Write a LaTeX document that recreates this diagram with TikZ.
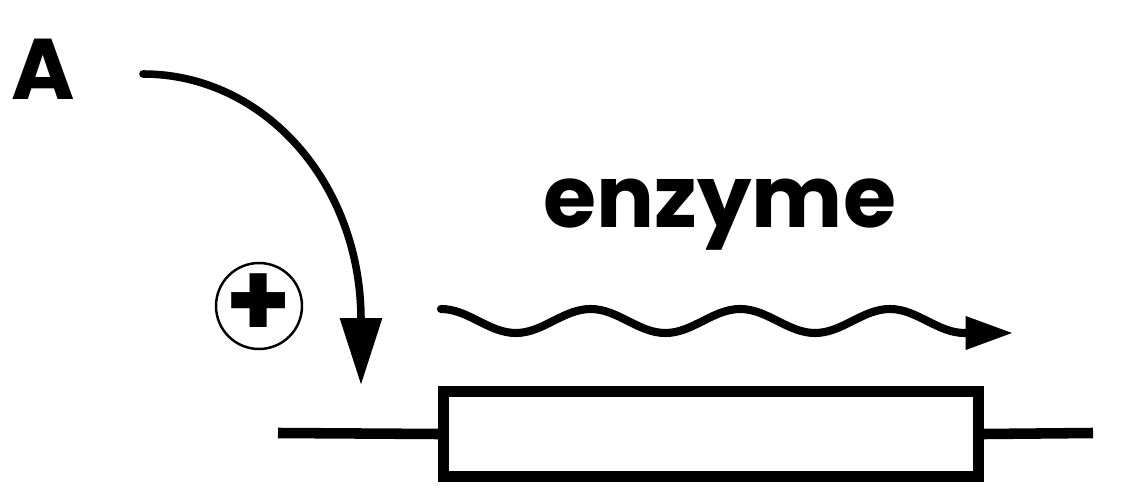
\documentclass[tikz,border=0pt]{standalone}
\usepackage{fontspec}
\setmainfont{Poppins}
\usetikzlibrary{arrows.meta}

\begin{document}
\begin{tikzpicture}[x=0.02cm, y=-0.02cm,
	label/.style={font=\fontsize{49}{56}\selectfont\bfseries, inner sep=0pt},
	strand/.style={line width=6pt},
	signal/.style={line width=4.3pt, line cap=round}]
	\useasboundingbox (0,0) rectangle (1138,499);

	\node[label] (A) at (43,69) {A};
	\node[label, anchor=base] (enz) at (720,228) {enzyme};
	\node[circle, draw, line width=1.4pt, minimum size=1.72cm, inner sep=0pt] (plus) at (259,306) {};
	\node[font=\fontsize{60}{64}\selectfont\bfseries, inner sep=0pt] (sign) at (plus.center) {+};
	\node[draw, strand, rectangle, minimum width=10.71cm, minimum height=1.7cm, inner sep=0pt] (gene) at (711,434) {};

	\coordinate (left) at (278,433);
	\coordinate (right) at (1093,433);
	\coordinate (from) at (143,74);
	\coordinate (site) at (361,385);
	\coordinate (ws) at (441,309);
	\coordinate (wtip) at (1013,333);

	% DNA strand
	\draw[strand] (left) -- (gene.west);
	\draw[strand] (gene.east) -- (right);
	% activator
	\draw[signal, -{Triangle[length=38pt,width=23pt]}] (from) .. controls (264,74) and (361,183) .. (site);
	% transcript
	\draw[signal, line width=4.6pt, -{Triangle[length=27pt,width=18pt]}] (ws)
		cos ++(37.4,12) sin ++(37.4,12) cos ++(37.4,-12) sin ++(37.4,-12)
		cos ++(37.4,12) sin ++(37.4,12) cos ++(37.4,-12) sin ++(37.4,-12)
		cos ++(37.4,12) sin ++(37.4,12) cos ++(37.4,-12) sin ++(37.4,-12)
		cos ++(37.4,12) sin ++(37.4,12) -- (wtip);
\end{tikzpicture}
\end{document}
